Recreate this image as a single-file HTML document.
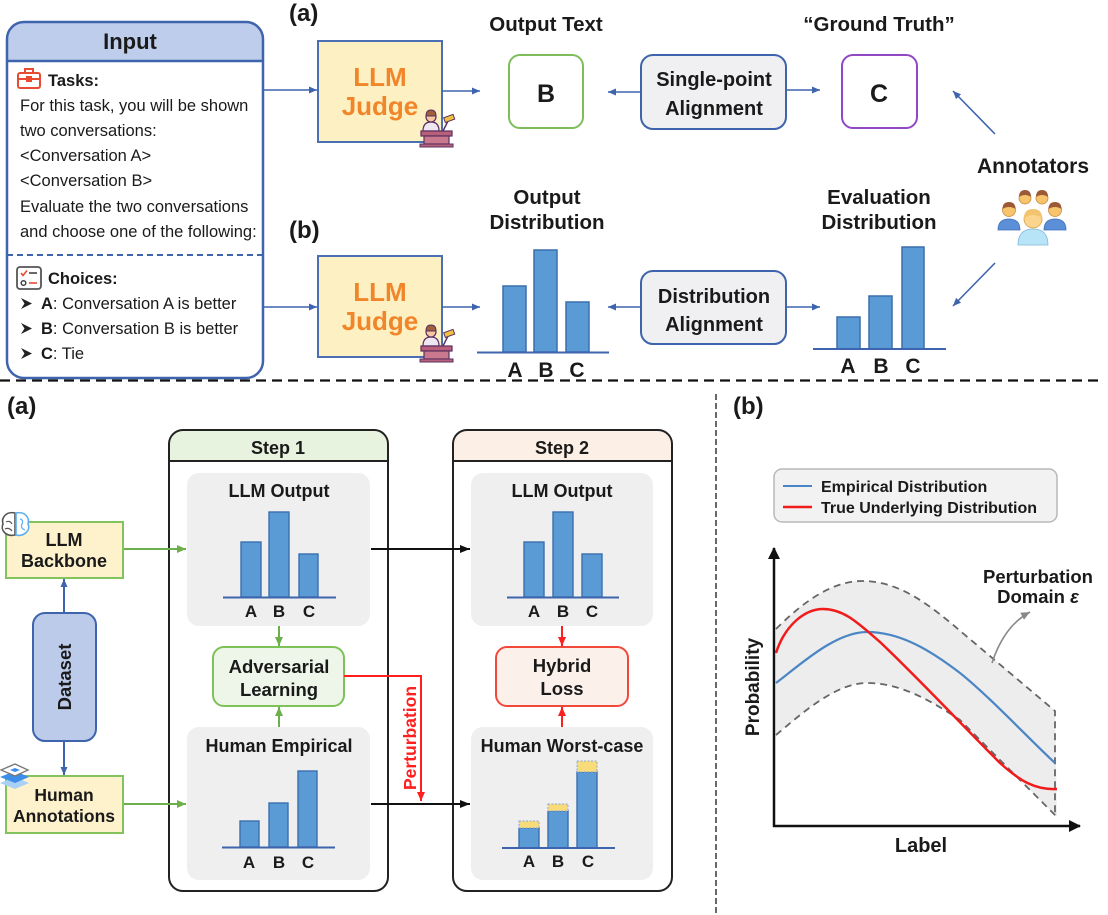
<!DOCTYPE html>
<html><head><meta charset="utf-8">
<style>
html,body{margin:0;padding:0;background:#fff;}
svg{display:block;}
text{font-family:"Liberation Sans",Arial,sans-serif;fill:#1a1a1a;}
.b{font-weight:bold;}
</style></head>
<body>
<svg width="1108" height="915" viewBox="0 0 1108 915" xmlns="http://www.w3.org/2000/svg">
<defs>
<marker id="ab" markerUnits="userSpaceOnUse" markerWidth="8" markerHeight="7" refX="8" refY="3.5" orient="auto"><path d="M0,0 L8,3.5 L0,7 z" fill="#3e64ad"/></marker>
<marker id="ag" markerUnits="userSpaceOnUse" markerWidth="9" markerHeight="8" refX="9" refY="4" orient="auto"><path d="M0,0 L9,4 L0,8 z" fill="#6db04b"/></marker>
<marker id="ak" markerUnits="userSpaceOnUse" markerWidth="10" markerHeight="8" refX="10" refY="4" orient="auto"><path d="M0,0 L10,4 L0,8 z" fill="#111"/></marker>
<marker id="ar" markerUnits="userSpaceOnUse" markerWidth="9" markerHeight="8" refX="9" refY="4" orient="auto"><path d="M0,0 L9,4 L0,8 z" fill="#ff1f1f"/></marker>
<marker id="agr" markerUnits="userSpaceOnUse" markerWidth="9" markerHeight="8" refX="9" refY="4" orient="auto"><path d="M0,0 L9,4 L0,8 z" fill="#888"/></marker>
<marker id="aax" markerUnits="userSpaceOnUse" markerWidth="12" markerHeight="12" refX="11" refY="6" orient="auto"><path d="M0,0 L12,6 L0,12 z" fill="#111"/></marker>
</defs>

<!-- ================= TOP SECTION ================= -->
<!-- Input box -->
<path d="M7,61 V39 Q7,22 24,22 H246 Q263,22 263,39 V61 Z" fill="#bfcdec"/>
<rect x="7" y="22" width="256" height="356" rx="17" fill="none" stroke="#3e64ad" stroke-width="2.5"/>
<line x1="7" y1="61" x2="263" y2="61" stroke="#3e64ad" stroke-width="2.5"/>
<text x="130" y="49" text-anchor="middle" class="b" font-size="22">Input</text>
<!-- tasks icon -->
<g stroke="#e84a32" stroke-width="2" fill="none">
<rect x="18" y="73" width="22" height="15" rx="2"/>
<path d="M25,73 V69 H33 V73"/>
<path d="M18,79 H40"/>
<rect x="27" y="77" width="4" height="4" fill="#e84a32"/>
</g>
<text x="48" y="86" class="b" font-size="16.5">Tasks:</text>
<g font-size="16.5">
<text x="20" y="111">For this task, you will be shown</text>
<text x="20" y="136">two conversations:</text>
<text x="20" y="161">&lt;Conversation A&gt;</text>
<text x="20" y="186">&lt;Conversation B&gt;</text>
<text x="20" y="212">Evaluate the two conversations</text>
<text x="20" y="237">and choose one of the following:</text>
</g>
<line x1="7" y1="255" x2="263" y2="255" stroke="#3e64ad" stroke-width="2" stroke-dasharray="6,4"/>
<!-- choices icon -->
<rect x="17" y="267" width="24" height="22" rx="3" fill="none" stroke="#555" stroke-width="1.8"/>
<path d="M21,273 L23,275.5 L27,270.5" stroke="#e84a32" stroke-width="1.6" fill="none"/>
<path d="M29,273 H37" stroke="#444" stroke-width="1.6"/>
<circle cx="23.5" cy="283" r="2.3" fill="none" stroke="#444" stroke-width="1.5"/>
<path d="M29,283 H37" stroke="#e84a32" stroke-width="1.6"/>
<text x="48" y="284" class="b" font-size="16.5">Choices:</text>
<g fill="#222">
<path d="M21,298 L32,303.5 L21,309 L24.5,303.5 Z"/>
<path d="M21,323 L32,328.5 L21,334 L24.5,328.5 Z"/>
<path d="M21,348 L32,353.5 L21,359 L24.5,353.5 Z"/>
</g>
<g font-size="16.5">
<text x="41" y="309"><tspan class="b">A</tspan>: Conversation A is better</text>
<text x="41" y="334"><tspan class="b">B</tspan>: Conversation B is better</text>
<text x="41" y="359"><tspan class="b">C</tspan>: Tie</text>
</g>

<text x="289" y="21" class="b" font-size="24">(a)</text>
<text x="289" y="238" class="b" font-size="24">(b)</text>

<!-- LLM Judge boxes -->
<rect x="318" y="41" width="124" height="101" fill="#fdf0c2" stroke="#4a6fb5" stroke-width="2"/>
<text x="380" y="86" text-anchor="middle" class="b" font-size="26" style="fill:#f0852a">LLM</text>
<text x="380" y="115" text-anchor="middle" class="b" font-size="26" style="fill:#f0852a">Judge</text>
<rect x="318" y="256" width="124" height="101" fill="#fdf0c2" stroke="#4a6fb5" stroke-width="2"/>
<text x="380" y="301" text-anchor="middle" class="b" font-size="26" style="fill:#f0852a">LLM</text>
<text x="380" y="330" text-anchor="middle" class="b" font-size="26" style="fill:#f0852a">Judge</text>

<!-- judge icons -->
<g id="judge">
<path d="M423,131 Q423,122 431,122 Q439,122 439,131 Z" fill="#efe6f4" stroke="#5a3060" stroke-width="1.2"/>
<circle cx="431" cy="117" r="5" fill="#f5c8a0" stroke="#5a3060" stroke-width="1.2"/>
<path d="M426,116 Q426,110 431,110 Q436,110 436,116 Z" fill="#a0603a" stroke="#5a3060" stroke-width="1"/>
<line x1="443" y1="131" x2="448" y2="121" stroke="#5a3060" stroke-width="1.5"/>
<rect x="444" y="116" width="10" height="5" fill="#f0c040" stroke="#5a3060" stroke-width="1" transform="rotate(-20 449 118)"/>
<rect x="421" y="131" width="31" height="5" fill="#b8607a" stroke="#5a3060" stroke-width="1.2"/>
<rect x="424" y="136" width="25" height="8" fill="#c9788e" stroke="#5a3060" stroke-width="1.2"/>
<rect x="420" y="144" width="33" height="3" fill="#b8607a" stroke="#5a3060" stroke-width="1"/>
</g>
<use href="#judge" transform="translate(0,215)"/>

<!-- top arrows -->
<g stroke="#3e64ad" stroke-width="1.6" fill="none">
<line x1="263" y1="90" x2="317" y2="90" marker-end="url(#ab)"/>
<line x1="442" y1="91" x2="480" y2="91" marker-end="url(#ab)"/>
<line x1="263" y1="307" x2="317" y2="307" marker-end="url(#ab)"/>
<line x1="442" y1="307" x2="480" y2="307" marker-end="url(#ab)"/>
<line x1="641" y1="92" x2="608" y2="92" marker-end="url(#ab)"/>
<line x1="786" y1="90" x2="820" y2="90" marker-end="url(#ab)"/>
<line x1="641" y1="307" x2="608" y2="307" marker-end="url(#ab)"/>
<line x1="786" y1="307" x2="820" y2="307" marker-end="url(#ab)"/>
<line x1="995" y1="134" x2="953" y2="91" marker-end="url(#ab)"/>
<line x1="995" y1="263" x2="953" y2="306" marker-end="url(#ab)"/>
</g>

<text x="546" y="31" text-anchor="middle" class="b" font-size="20.5">Output Text</text>
<text x="879" y="31" text-anchor="middle" class="b" font-size="20.5">“Ground Truth”</text>
<rect x="509" y="55" width="74" height="73" rx="11" fill="#fff" stroke="#7dbd5a" stroke-width="2"/>
<text x="546" y="102" text-anchor="middle" class="b" font-size="25">B</text>
<rect x="842" y="55" width="75" height="73" rx="11" fill="#fff" stroke="#9148c4" stroke-width="2"/>
<text x="879" y="102" text-anchor="middle" class="b" font-size="25">C</text>
<rect x="641" y="55" width="145" height="74" rx="12" fill="#f0f0f2" stroke="#3e64ad" stroke-width="2"/>
<text x="714" y="86" text-anchor="middle" class="b" font-size="20">Single-point</text>
<text x="714" y="115" text-anchor="middle" class="b" font-size="20">Alignment</text>
<rect x="641" y="271" width="145" height="73" rx="12" fill="#f0f0f2" stroke="#3e64ad" stroke-width="2"/>
<text x="714" y="303" text-anchor="middle" class="b" font-size="20">Distribution</text>
<text x="714" y="331" text-anchor="middle" class="b" font-size="20">Alignment</text>

<text x="1033" y="173" text-anchor="middle" class="b" font-size="21">Annotators</text>
<!-- annotators icon -->
<g stroke-width="0.8">
<circle cx="1025" cy="198" r="6" fill="#f7c36b" stroke="#c48a40"/>
<path d="M1019,197 Q1019,190 1025,190 Q1031,190 1031,197 Q1025,193 1019,197 Z" fill="#9b5a35"/>
<circle cx="1042" cy="198" r="6" fill="#f7c36b" stroke="#c48a40"/>
<path d="M1036,197 Q1036,190 1042,190 Q1048,190 1048,197 Q1042,193 1036,197 Z" fill="#9b5a35"/>
<path d="M998,230 Q998,219 1009,219 Q1020,219 1020,230 Z" fill="#5b8fd8" stroke="#3e6fb8"/>
<circle cx="1009" cy="210" r="6.5" fill="#f7c36b" stroke="#c48a40"/>
<path d="M1002.5,209 Q1002.5,202 1009,202 Q1015.5,202 1015.5,209 Q1009,205 1002.5,209 Z" fill="#9b5a35"/>
<path d="M1044,230 Q1044,219 1055,219 Q1066,219 1066,230 Z" fill="#5b8fd8" stroke="#3e6fb8"/>
<circle cx="1055" cy="210" r="6.5" fill="#f7c36b" stroke="#c48a40"/>
<path d="M1048.5,209 Q1048.5,202 1055,202 Q1061.5,202 1061.5,209 Q1055,205 1048.5,209 Z" fill="#9b5a35"/>
<path d="M1018,245 Q1018,229 1033,229 Q1048,229 1048,245 Z" fill="#b8e4f7" stroke="#7fb8e0"/>
<circle cx="1033" cy="219" r="9" fill="#fbd48e" stroke="#d8a050"/>
<path d="M1024,218 Q1024,209 1033,209 Q1042,209 1042,218 Q1033,212 1024,218 Z" fill="#f2c470"/>
</g>

<text x="547" y="204" text-anchor="middle" class="b" font-size="20.5">Output</text>
<text x="547" y="229" text-anchor="middle" class="b" font-size="20.5">Distribution</text>
<text x="879" y="204" text-anchor="middle" class="b" font-size="20.5">Evaluation</text>
<text x="879" y="229" text-anchor="middle" class="b" font-size="20.5">Distribution</text>

<!-- top bars -->
<g fill="#5b9bd5" stroke="#3b6fae" stroke-width="1.5">
<rect x="503" y="286" width="23" height="66"/>
<rect x="534" y="250" width="23" height="102"/>
<rect x="566" y="302" width="23" height="50"/>
<rect x="837" y="317" width="23" height="32"/>
<rect x="869" y="296" width="23" height="53"/>
<rect x="902" y="247" width="22" height="102"/>
</g>
<line x1="477" y1="352.5" x2="609" y2="352.5" stroke="#3e64ad" stroke-width="2"/>
<line x1="813" y1="349" x2="946" y2="349" stroke="#3e64ad" stroke-width="2"/>
<g class="b" font-size="21" text-anchor="middle">
<text x="515" y="377">A</text><text x="546" y="377">B</text><text x="577" y="377">C</text>
<text x="848" y="373">A</text><text x="881" y="373">B</text><text x="913" y="373">C</text>
</g>

<!-- separators -->
<line x1="0" y1="380.5" x2="1102" y2="380.5" stroke="#111" stroke-width="2.2" stroke-dasharray="10,6"/>
<line x1="716" y1="394" x2="716" y2="915" stroke="#444" stroke-width="1.6" stroke-dasharray="6,3"/>

<!-- ================= BOTTOM (a) ================= -->
<text x="7" y="414" class="b" font-size="24">(a)</text>

<!-- step boxes -->
<path d="M169,461 V444 Q169,430 183,430 H374 Q388,430 388,444 V461 Z" fill="#e8f3df"/>
<rect x="169" y="430" width="219" height="461" rx="14" fill="none" stroke="#222" stroke-width="2"/>
<line x1="169" y1="461" x2="388" y2="461" stroke="#222" stroke-width="2"/>
<text x="278" y="454" text-anchor="middle" class="b" font-size="18">Step 1</text>

<path d="M453,461 V444 Q453,430 467,430 H658 Q672,430 672,444 V461 Z" fill="#fcefe6"/>
<rect x="453" y="430" width="219" height="461" rx="14" fill="none" stroke="#222" stroke-width="2"/>
<line x1="453" y1="461" x2="672" y2="461" stroke="#222" stroke-width="2"/>
<text x="562" y="454" text-anchor="middle" class="b" font-size="18">Step 2</text>

<!-- panels -->
<rect x="187" y="473" width="183" height="153" rx="12" fill="#efefef"/>
<rect x="187" y="727" width="183" height="153" rx="12" fill="#efefef"/>
<rect x="471" y="473" width="182" height="153" rx="12" fill="#efefef"/>
<rect x="471" y="727" width="182" height="153" rx="12" fill="#efefef"/>

<g class="b" font-size="18" text-anchor="middle">
<text x="279" y="497">LLM Output</text>
<text x="279" y="752">Human Empirical</text>
<text x="562" y="497">LLM Output</text>
<text x="562" y="752">Human Worst-case</text>
</g>

<g fill="#5b9bd5" stroke="#3b6fae" stroke-width="1.4">
<rect x="241" y="542" width="20" height="55"/>
<rect x="269" y="512" width="20" height="85"/>
<rect x="299" y="554" width="19" height="43"/>
<rect x="240" y="821" width="19" height="26"/>
<rect x="269" y="803" width="19" height="44"/>
<rect x="298" y="771" width="19" height="76"/>
<rect x="524" y="542" width="20" height="55"/>
<rect x="553" y="512" width="20" height="85"/>
<rect x="582" y="554" width="20" height="43"/>
<rect x="519" y="828" width="20" height="20"/>
<rect x="548" y="811" width="20" height="37"/>
<rect x="577" y="772" width="20" height="76"/>
</g>
<g fill="#f9dc7a" stroke="#8aa8dc" stroke-width="1" stroke-dasharray="2,1.5">
<rect x="519" y="821" width="20" height="7"/>
<rect x="548" y="804" width="20" height="7"/>
<rect x="577" y="761" width="20" height="11"/>
</g>
<g stroke="#3e64ad" stroke-width="2">
<line x1="223" y1="597.5" x2="336" y2="597.5"/>
<line x1="222" y1="847.5" x2="335" y2="847.5"/>
<line x1="507" y1="597.5" x2="619" y2="597.5"/>
<line x1="502" y1="848" x2="615" y2="848"/>
</g>
<g class="b" font-size="17" text-anchor="middle">
<text x="251" y="617">A</text><text x="279" y="617">B</text><text x="309" y="617">C</text>
<text x="249" y="868">A</text><text x="279" y="868">B</text><text x="308" y="868">C</text>
<text x="534" y="617">A</text><text x="563" y="617">B</text><text x="592" y="617">C</text>
<text x="529" y="867">A</text><text x="558" y="867">B</text><text x="588" y="867">C</text>
</g>

<!-- Adversarial / Hybrid -->
<rect x="213" y="647" width="131" height="59" rx="11" fill="#eef6e9" stroke="#7dc256" stroke-width="2"/>
<text x="279" y="673" text-anchor="middle" class="b" font-size="18.5">Adversarial</text>
<text x="279" y="696" text-anchor="middle" class="b" font-size="18.5">Learning</text>
<rect x="496" y="647" width="132" height="59" rx="11" fill="#fcf0ea" stroke="#f2483a" stroke-width="2"/>
<text x="562" y="672" text-anchor="middle" class="b" font-size="18.5">Hybrid</text>
<text x="562" y="695" text-anchor="middle" class="b" font-size="18.5">Loss</text>

<g stroke="#6db04b" stroke-width="2">
<line x1="279" y1="626" x2="279" y2="646" marker-end="url(#ag)"/>
<line x1="279" y1="727" x2="279" y2="707" marker-end="url(#ag)"/>
<line x1="123" y1="549" x2="186" y2="549" marker-end="url(#ag)"/>
<line x1="123" y1="804" x2="186" y2="804" marker-end="url(#ag)"/>
</g>
<g stroke="#ff1f1f" stroke-width="2" fill="none">
<line x1="562" y1="626" x2="562" y2="646" marker-end="url(#ar)"/>
<line x1="562" y1="727" x2="562" y2="707" marker-end="url(#ar)"/>
<path d="M344,676 H421 V801" marker-end="url(#ar)"/>
</g>
<g stroke="#111" stroke-width="2">
<line x1="371" y1="549" x2="470" y2="549" marker-end="url(#ak)"/>
<line x1="371" y1="804" x2="470" y2="804" marker-end="url(#ak)"/>
</g>
<text transform="translate(416,738) rotate(-90)" text-anchor="middle" class="b" font-size="17.5" style="fill:#ff1f1f">Perturbation</text>

<!-- left side -->
<rect x="6" y="522" width="117" height="56" fill="#fdf2cb" stroke="#83c35e" stroke-width="2"/>
<text x="64" y="546" text-anchor="middle" class="b" font-size="18">LLM</text>
<text x="64" y="567" text-anchor="middle" class="b" font-size="18">Backbone</text>
<rect x="6" y="776" width="117" height="57" fill="#fdf2cb" stroke="#83c35e" stroke-width="2"/>
<text x="64" y="801" text-anchor="middle" class="b" font-size="17.5">Human</text>
<text x="64" y="822" text-anchor="middle" class="b" font-size="17.5">Annotations</text>
<rect x="33" y="613" width="63" height="128" rx="12" fill="#bccbea" stroke="#3e64ad" stroke-width="2"/>
<text transform="translate(71,677) rotate(-90)" text-anchor="middle" class="b" font-size="18.5">Dataset</text>
<g stroke="#3e64ad" stroke-width="2">
<line x1="64" y1="613" x2="64" y2="579" marker-end="url(#ab)"/>
<line x1="64" y1="741" x2="64" y2="775" marker-end="url(#ab)"/>
</g>
<!-- brain icon -->
<path d="M15,513 C6,511 1,518 3,524 C0,530 6,537 15,535 Z" fill="#fff" stroke="#555" stroke-width="1.6"/>
<path d="M6,522 Q10,520 12,524 M5,529 Q9,527 12,531" stroke="#555" stroke-width="1.2" fill="none"/>
<path d="M16,513 C25,511 30,518 28,524 C31,530 24,537 16,535 Z" fill="#fff" stroke="#5ab0f0" stroke-width="1.6"/>
<path d="M20,519 Q24,520 22,524 Q20,528 25,530" stroke="#5ab0f0" stroke-width="1.2" fill="none"/>
<!-- layers icon -->
<path d="M0,783 L15,777 L29,783 L15,789 Z" fill="#a9d0f5"/>
<path d="M0,777 L15,771 L29,777 L15,783 Z" fill="#3c8ee8"/>
<path d="M1,770 L15,764 L28,770 L15,776 Z" fill="#fff" stroke="#777" stroke-width="1.3"/>
<path d="M10,770 L15,768 L20,770 L15,772 Z" fill="#3c8ee8"/>

<!-- ================= BOTTOM (b) ================= -->
<text x="733" y="414" class="b" font-size="24">(b)</text>
<rect x="774" y="469" width="283" height="53" rx="8" fill="#f2f2f2" stroke="#b8b8b8" stroke-width="1.5"/>
<line x1="783" y1="486" x2="812" y2="486" stroke="#4a86c5" stroke-width="2"/>
<line x1="783" y1="507" x2="812" y2="507" stroke="#f01c1c" stroke-width="2.5"/>
<text x="821" y="492" class="b" font-size="16">Empirical Distribution</text>
<text x="821" y="513" class="b" font-size="16">True Underlying Distribution</text>

<path d="M776,629 C800,605 830,581 862,581 C900,581 930,605 965,635 L1055,711 L1057,817 L960,720 C930,700 900,683 867,683 C835,683 800,715 776,735 Z" fill="#ededed"/>
<g stroke="#666" stroke-width="1.8" fill="none" stroke-dasharray="7,5">
<path d="M776,629 C800,605 830,581 862,581 C900,581 930,605 965,635 L1055,711 L1055,817"/>
<path d="M776,735 C800,715 835,683 867,683 C900,683 930,700 960,720 L1057,817"/>
</g>
<path d="M776,683 C800,665 835,632 867,632 C900,632 930,650 960,673 C990,697 1030,740 1055,763" stroke="#4a86c5" stroke-width="2.2" fill="none"/>
<path d="M776,653 C785,625 805,609 823,609 C845,609 860,625 880,642 C920,680 960,723 1000,763 C1020,781 1035,790 1057,789" stroke="#f01c1c" stroke-width="2.5" fill="none"/>

<line x1="774" y1="827" x2="774" y2="548" stroke="#111" stroke-width="2.5" marker-end="url(#aax)"/>
<line x1="773" y1="826" x2="1080" y2="826" stroke="#111" stroke-width="2.5" marker-end="url(#aax)"/>
<text transform="translate(759,687) rotate(-90)" text-anchor="middle" class="b" font-size="19">Probability</text>
<text x="921" y="852" text-anchor="middle" class="b" font-size="20">Label</text>
<text x="1038" y="583" text-anchor="middle" class="b" font-size="18.5">Perturbation</text>
<text x="1038" y="603" text-anchor="middle" class="b" font-size="18.5">Domain <tspan font-style="italic">ε</tspan></text>
<path d="M992,663 Q1004,626 1030,612" stroke="#888" stroke-width="1.6" fill="none" marker-end="url(#agr)"/>
</svg>
</body></html>
